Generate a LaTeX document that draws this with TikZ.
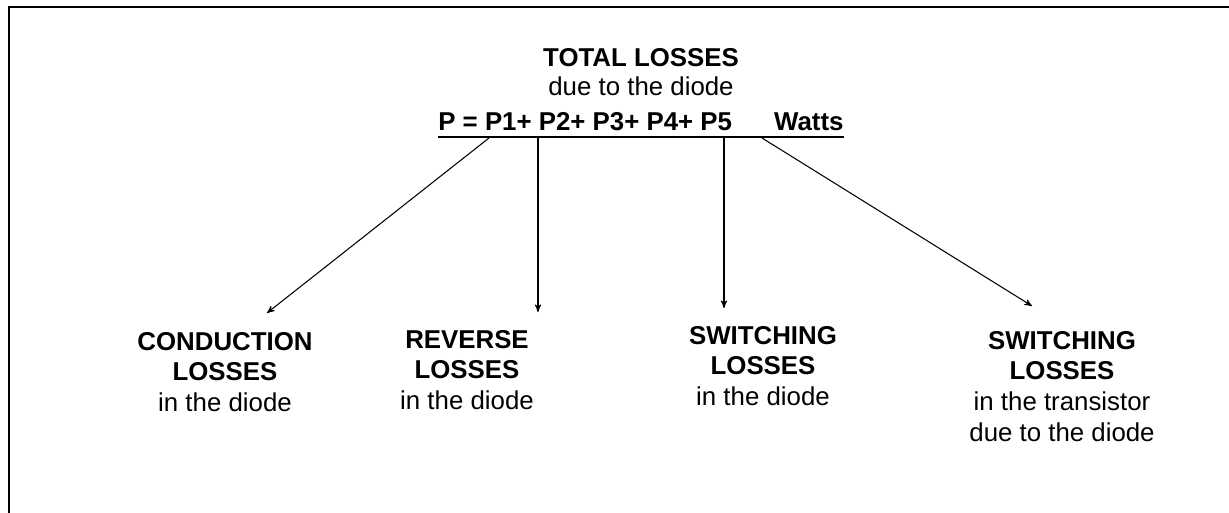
\documentclass[tikz,border=0pt]{standalone}
\usepackage{fontspec}
\setmainfont{Liberation Sans}
\usepackage{tikz}
\usetikzlibrary{positioning, arrows}
\tikzset{every node/.style={ % Sets the text look for each label
inner sep=0pt,
font=\fontsize{14.7}{17.4}\selectfont},
loss/.style={ % Sets the properties for each group of losses
align=center,
anchor=north},
branch/.style={ % Arrows from the sum down to each group
draw,->,>=stealth', % Small filled arrowheads
semithick},
rule/.style={ % Thick lines of the frame and underline
draw,line width=1.15pt}}

\begin{document}
\begin{tikzpicture}[x=0.02cm, y=-0.02cm]

    \useasboundingbox (0,0) rectangle (1229,513);
    \draw[rule] (1229,7) -| (9,513);

    \node[anchor=north] (total) at (641,48) {\textbf{TOTAL LOSSES}};
    \node[below=0.18cm of total] (due) {due to the diode};
    \node[anchor=base west] (sum) at (438,131) {\textbf{P = P1+ P2+ P3+ P4+ P5}};
    \node[base right=0.83cm of sum] (watts) {\textbf{Watts}};
    \draw[rule] ([yshift=-0.12cm]sum.base west) -- ([yshift=-0.12cm]watts.base east);

    \coordinate (p1) at (489,138);
    \coordinate (p2) at (538,138);
    \coordinate (p4) at (724,138);
    \coordinate (p5) at (762,138);
    \coordinate (t1) at (267,313);
    \coordinate (t2) at (538,312);
    \coordinate (t4) at (724,308);
    \coordinate (t5) at (1032,306);

    \node[loss] (conduction) at (225,332) {\textbf{CONDUCTION}\\\textbf{LOSSES}\\in the diode};
    \node[loss] (reverse) at (467,330) {\textbf{REVERSE}\\\textbf{LOSSES}\\in the diode};
    \node[loss] (swdiode) at (763,326) {\textbf{SWITCHING}\\\textbf{LOSSES}\\in the diode};
    \node[loss] (swtrans) at (1062,331) {\textbf{SWITCHING}\\\textbf{LOSSES}\\in the transistor\\due to the diode};

    \draw[branch] (p1) -- (t1);
    \draw[branch] (p2) -- (t2);
    \draw[branch] (p4) -- (t4);
    \draw[branch] (p5) -- (t5);

\end{tikzpicture}
\end{document}
